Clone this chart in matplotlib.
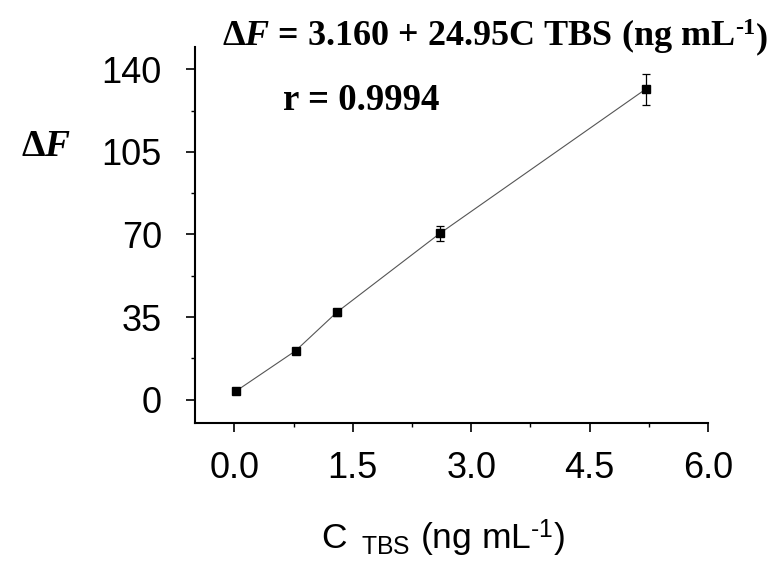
import matplotlib
matplotlib.use("Agg")
import matplotlib.pyplot as plt
from matplotlib.ticker import MultipleLocator, FixedLocator

plt.rcParams['mathtext.fontset'] = 'custom'
plt.rcParams['mathtext.rm'] = 'Liberation Sans'
plt.rcParams['mathtext.sf'] = 'Liberation Sans'
plt.rcParams['mathtext.bf'] = 'Liberation Serif:bold'
plt.rcParams['mathtext.it'] = 'Liberation Serif:bold:italic'

conc = [0.02, 0.775, 1.30, 2.605, 5.21]
dF = [3.6, 20.7, 37.1, 70.5, 131.6]
err = [0.8, 0.8, 1.5, 3.2, 6.6]
xticks = [0.0, 1.5, 3.0, 4.5, 6.0]
yticks = [0, 35, 70, 105, 140]

fig = plt.figure(figsize=(7.75, 5.67), dpi=100)
ax = fig.add_axes([195 / 775, 1 - 422.7 / 567, (708 - 195) / 775, (422.7 - 46.7) / 567])

ax.plot(conc, dF, color='#555555', lw=0.8, zorder=2)
ax.errorbar(conc, dF, yerr=err, fmt='s', color='black', ms=6,
            ecolor='black', elinewidth=0.9, capsize=2.8, capthick=0.9, zorder=3)

ax.set_xlim(-0.5, 6.0)
ax.set_ylim(-9.8, 149.6)
ax.xaxis.set_major_locator(FixedLocator(xticks))
ax.yaxis.set_major_locator(FixedLocator(yticks))
ax.xaxis.set_minor_locator(MultipleLocator(0.75))
ax.yaxis.set_minor_locator(MultipleLocator(17.5))
ax.set_xticklabels([f"{v:.1f}" for v in xticks])
ax.set_yticklabels([str(v) for v in yticks])

for s in ['top', 'right']:
    ax.spines[s].set_visible(False)
for s in ['left', 'bottom']:
    ax.spines[s].set_linewidth(1.5)
ax.tick_params(which='major', direction='out', length=6.3, width=1.2,
               labelsize=26)
ax.tick_params(which='minor', direction='out', length=3.2, width=1.0)
ax.tick_params(axis='x', which='major', pad=14)
ax.tick_params(axis='y', which='major', pad=17.5)
for lab in ax.get_xticklabels() + ax.get_yticklabels():
    lab.set_fontfamily('Liberation Sans')

# x-axis title
fig.text(321 / 775, 1 - 550 / 567, r"C $\,_{\text{TBS}}$ (ng mL$^{\text{-1}}$)",
         fontfamily='Liberation Sans', fontsize=25.5, ha='left', va='baseline')

# y-axis title
fig.text(46 / 775, 1 - 147 / 567, r"Δ$\mathit{F}$", fontfamily='Liberation Serif',
         fontweight='bold', fontsize=27, ha='center', va='center')

# equation
eq = fig.text(221.7 / 775, 1 - 45 / 567,
              r"Δ$\mathit{F}$ = 3.160 + 24.95C TBS (ng mL",
              fontfamily='Liberation Serif', fontweight='bold', fontsize=26,
              ha='left', va='baseline')
sup_a = ax.annotate("-1", xy=(1, 1), xycoords=eq, xytext=(0.5, -1.0),
                    textcoords='offset points', ha='left', va='top',
                    fontfamily='Liberation Serif', fontweight='bold', fontsize=17.5,
                    annotation_clip=False)
ax.annotate(")", xy=(1, 0), xycoords=(sup_a, eq), xytext=(0.5, 0),
            textcoords='offset points', ha='left', va='bottom',
            fontfamily='Liberation Serif', fontweight='bold', fontsize=26,
            annotation_clip=False)

fig.text(283.3 / 775, 1 - 110 / 567, "r = 0.9994", fontfamily='Liberation Serif',
         fontweight='bold', fontsize=26.5, ha='left', va='baseline')

fig.savefig("out.png", dpi=100)
